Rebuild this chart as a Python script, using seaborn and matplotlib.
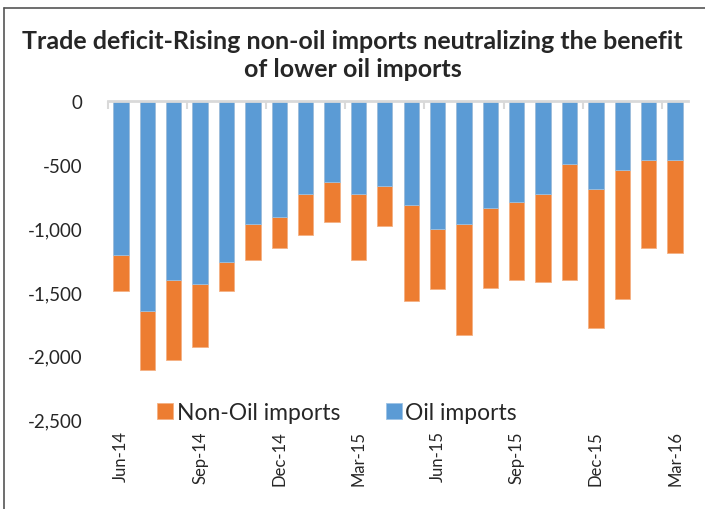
import numpy as np
import pandas as pd
import matplotlib.pyplot as plt
import matplotlib.ticker as mticker
from matplotlib.lines import Line2D
import seaborn as sns

# Data (USD mn)
months = ['Jun-14', 'Jul-14', 'Aug-14', 'Sep-14', 'Oct-14', 'Nov-14', 'Dec-14', 'Jan-15',
          'Feb-15', 'Mar-15', 'Apr-15', 'May-15', 'Jun-15', 'Jul-15', 'Aug-15', 'Sep-15',
          'Oct-15', 'Nov-15', 'Dec-15', 'Jan-16', 'Feb-16', 'Mar-16']
oil_imports = [-1206, -1654, -1410, -1439, -1261, -965, -910, -731, -637, -731, -668,
               -815, -1006, -965, -841, -789, -731, -493, -692, -543, -461, -461]
non_oil_imports = [-285, -458, -624, -498, -230, -283, -243, -325, -314, -517, -310,
                   -757, -472, -877, -626, -621, -692, -917, -1095, -1016, -692, -731]
tick_months = ['Jun-14', 'Sep-14', 'Dec-14', 'Mar-15', 'Jun-15', 'Sep-15', 'Dec-15', 'Mar-16']

df = pd.DataFrame({'month': months, 'oil': oil_imports, 'non_oil': non_oil_imports})
df['total'] = df['oil'] + df['non_oil']

sns.set_style("white")
plt.rcParams['font.family'] = ['Lato', 'DejaVu Sans']

fig = plt.figure(figsize=(7.05, 5.10), dpi=100)
ax = fig.add_axes([0.1529, 0.1765, 0.8233, 0.6229])

orange = '#ED7D31'
blue = '#5B9BD5'
sns.barplot(data=df, x='month', y='total', color=orange, width=0.58, ax=ax,
            label='Non-Oil imports', edgecolor='#F4B183', linewidth=0.6, saturation=1)
sns.barplot(data=df, x='month', y='oil', color=blue, width=0.58, ax=ax,
            label='Oil imports', edgecolor='#9DC3E6', linewidth=0.6, saturation=1)

ax.set_xlim(-0.5, len(months) - 0.5)
ax.set_ylim(-2500, 0)
ax.yaxis.set_major_locator(mticker.MultipleLocator(500))
ax.yaxis.set_major_formatter(mticker.FuncFormatter(lambda v, p: f'{int(v):,}'))

ticks = [months.index(m) for m in tick_months]
ax.set_xticks(ticks)
ax.set_xticklabels(tick_months, rotation=90)
ax.set_xticks(np.arange(-0.5, len(months), 3), minor=True)
ax.tick_params(axis='x', which='major', length=0, labelsize=12, colors='#262626', pad=8)
ax.tick_params(axis='x', which='minor', top=True, bottom=False, direction='in',
               length=6, width=1.5, color='#D9D9D9')
ax.tick_params(axis='y', length=0, labelsize=13.5, colors='#262626', pad=18)
ax.set_xlabel('')
ax.set_ylabel('')

for s in ['left', 'right', 'bottom']:
    ax.spines[s].set_visible(False)
ax.spines['top'].set_color('#D9D9D9')
ax.spines['top'].set_linewidth(2)

handles, labels = ax.get_legend_handles_labels()
ax.legend(handles, labels, loc='center', bbox_to_anchor=(0.478, 0.19),
          bbox_transform=fig.transFigure, ncol=2, frameon=False, fontsize=16.5,
          handlelength=0.7, handleheight=0.7, handletextpad=0.15, columnspacing=2.0,
          labelcolor='#262626')

fig.text(0.5, 0.918, 'Trade deficit-Rising non-oil imports neutralizing the benefit',
         ha='center', va='center', fontsize=18, fontweight='bold', color='#262626')
fig.text(0.5, 0.863, 'of lower oil imports',
         ha='center', va='center', fontsize=18, fontweight='bold', color='#262626')

# outer border (left and top)
fig.add_artist(Line2D([0.006, 0.006], [0, 0.982], transform=fig.transFigure,
                      color='#555555', linewidth=1.2))
fig.add_artist(Line2D([0.006, 1], [0.982, 0.982], transform=fig.transFigure,
                      color='#555555', linewidth=1.2))

plt.savefig('out.png', dpi=100)
